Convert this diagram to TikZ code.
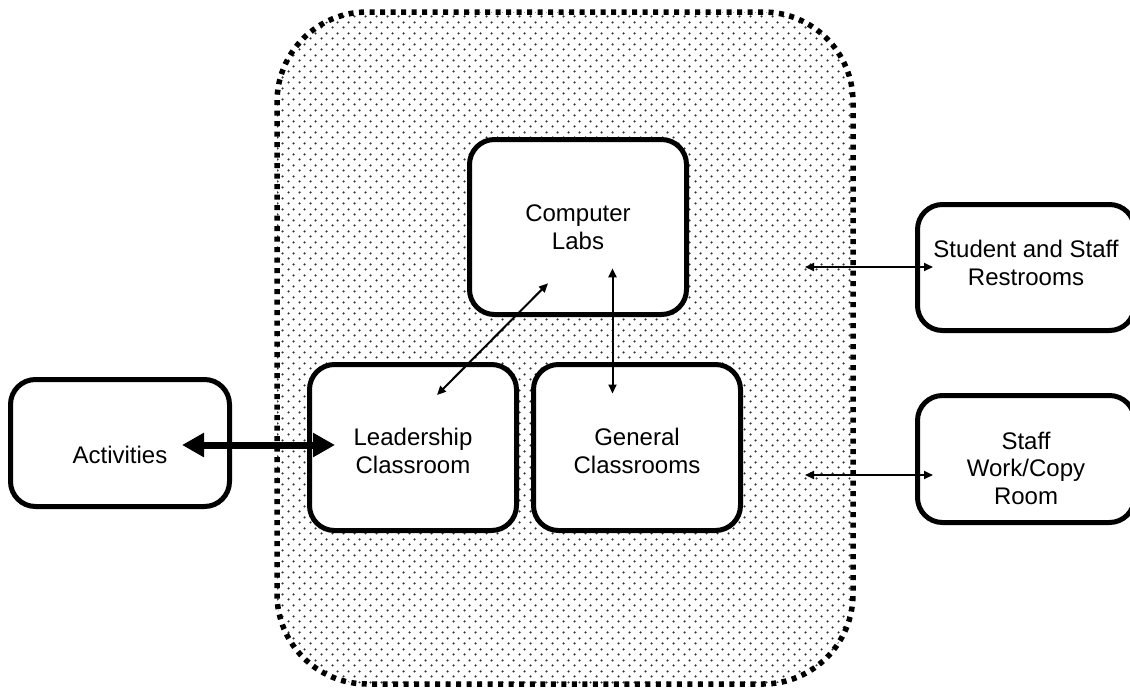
\documentclass[tikz,border=0pt]{standalone}
\usepackage{fontspec}
\setmainfont{Liberation Sans}
\usetikzlibrary{arrows.meta,calc,patterns}

% staggered stipple used for the shaded wing
\pgfdeclarepatternformonly{stipple}{\pgfqpoint{0pt}{0pt}}{\pgfqpoint{11pt}{11pt}}{\pgfqpoint{11pt}{11pt}}{%
  \pgfpathcircle{\pgfqpoint{2.75pt}{2.75pt}}{1.35pt}%
  \pgfpathcircle{\pgfqpoint{8.25pt}{8.25pt}}{1.35pt}%
  \pgfusepath{fill}}

\begin{document}
\begin{tikzpicture}[x=1pt,y=-1pt,
  zone/.style={draw, line width=5.5pt, dash pattern=on 5pt off 5.5pt,
    rounded corners=90pt, pattern=stipple, pattern color=black!80, inner sep=0pt},
  room/.style={draw, line width=5pt, rounded corners=25pt, fill=white, inner sep=0pt},
  txt/.style={align=center, inner sep=0pt, font=\fontsize{24}{27.5}\selectfont},
  link/.style={line width=2pt, {Triangle[length=9pt,width=8pt]}-{Triangle[length=9pt,width=8pt]}},
  biglink/.style={line width=7pt, {Triangle[length=22pt,width=23pt]}-{Triangle[length=22pt,width=23pt]}}]

\useasboundingbox (0,0) rectangle (1130,689);

% shaded wing
\node[zone, minimum width=576pt, minimum height=672pt] (wing) at (565,348) {};

% rooms
\node[room, minimum width=217pt, minimum height=175pt] (labs) at (578,227) {};
\node[room, minimum width=207pt, minimum height=166pt] (lead) at (413,447.5) {};
\node[room, minimum width=207pt, minimum height=166pt] (gen) at (637,447.5) {};
\node[room, minimum width=219pt, minimum height=127pt] (act) at (120,443) {};
\node[room, minimum width=217pt, minimum height=126pt] (rest) at (1026,267.5) {};
\node[room, minimum width=217pt, minimum height=127pt] (copy) at (1026,459) {};

% room names
\node[txt] (labsT) at (578,227) {Computer\\Labs};
\node[txt] (leadT) at (413,451) {Leadership\\Classroom};
\node[txt] (genT) at (637,451) {General\\Classrooms};
\node[txt] (actT) at (120,455) {Activities};
\node[txt] (restT) at (1026,263) {Student and Staff\\Restrooms};
\node[txt] (copyT) at (1026,468) {Staff\\Work/Copy\\Room};

% free ends inside the wing
\coordinate (wingR1) at (805,267);
\coordinate (wingR2) at (805,475);

% connectors
\draw[biglink] ($(act.center)+(62,2)$) -- ($(lead.center)+(-78,-2.5)$);
\draw[link] ($(lead.center)+(24,-52.5)$) -- ($(labs.center)+(-30,56.3)$);
\draw[link] ($(labs.center)+(34.5,41.3)$) -- ($(gen.center)+(-24.5,-54)$);
\draw[link] (wingR1) -- ($(rest.center)+(-93,-0.5)$);
\draw[link] (wingR2) -- ($(copy.center)+(-93,16)$);

\end{tikzpicture}
\end{document}
